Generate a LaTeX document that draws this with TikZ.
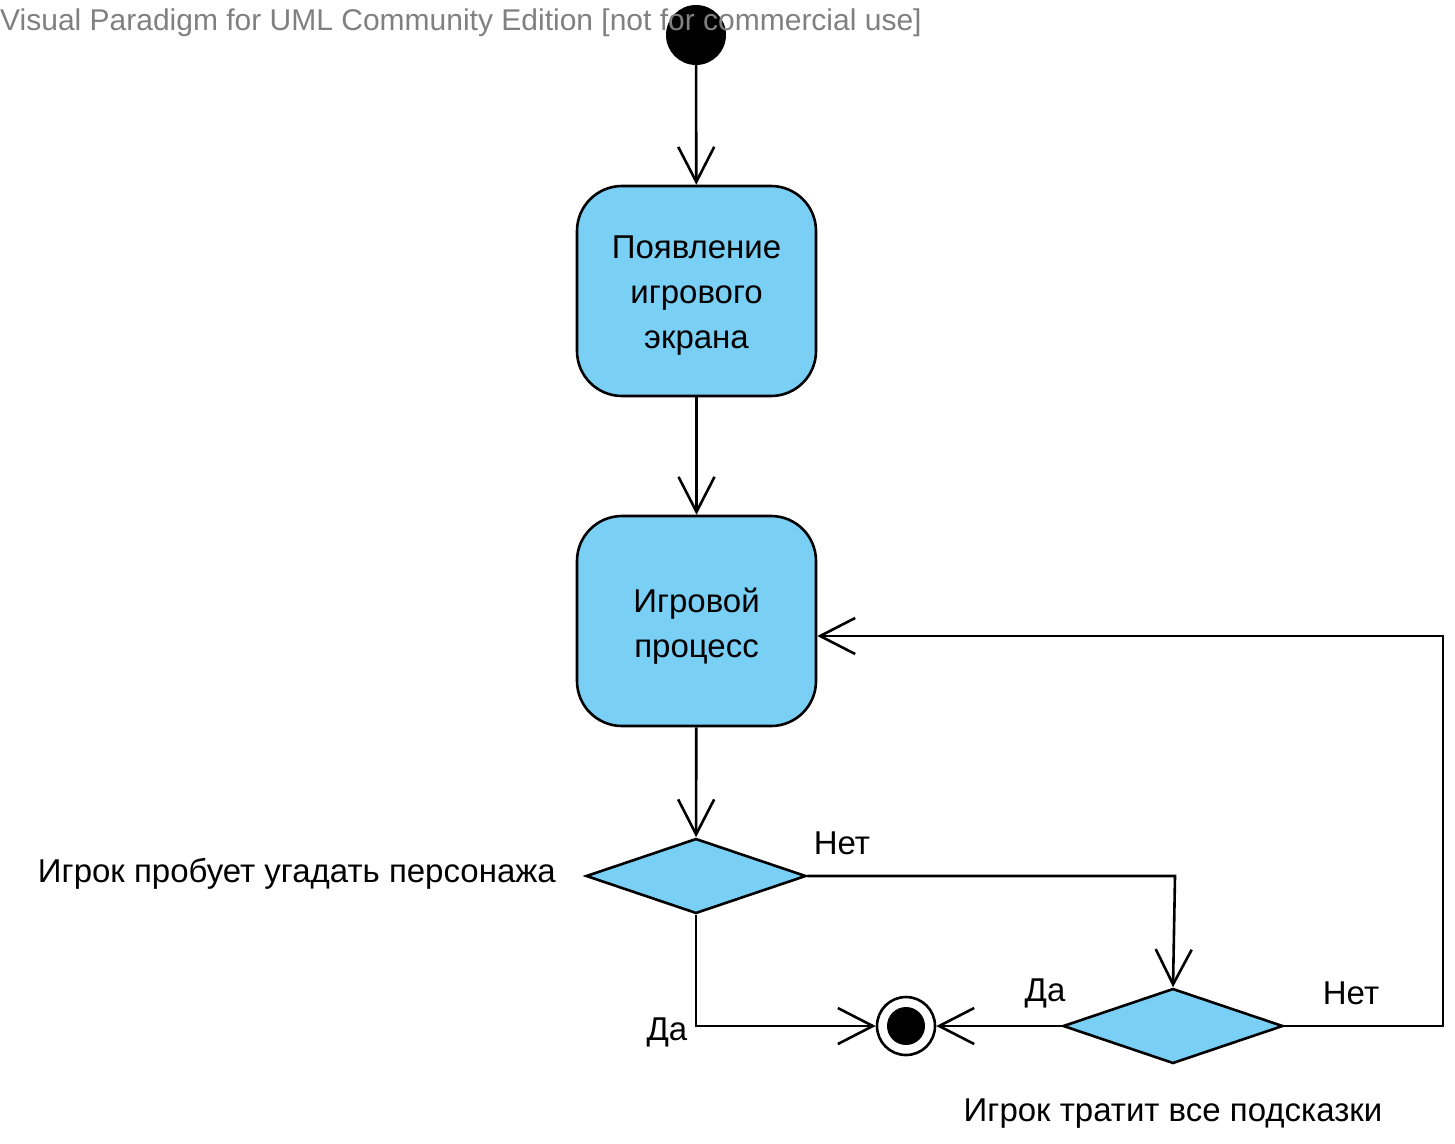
\documentclass[tikz,border=0pt]{standalone}
\usepackage{fontspec}
\setmainfont{Liberation Sans}
\usetikzlibrary{arrows.meta,shapes.geometric}
\definecolor{actfill}{RGB}{122,207,245}
\definecolor{wmgrey}{RGB}{128,128,128}
\tikzset{
  px/.style={x=1pt,y=-1pt},
  actbox/.style={draw=black,line width=2.6pt,fill=actfill,rounded corners=45pt,
    minimum width=239pt,minimum height=210pt,inner sep=0pt},
  acttext/.style={align=center,inner sep=0pt,font=\fontsize{33}{45}\selectfont},
  decis/.style={draw=black,line width=2.6pt,fill=actfill,diamond,inner sep=0pt,
    minimum width=220pt,minimum height=75pt},
  flow/.style={draw=black,line width=2.6pt,-{Straight Barb[length=35pt,width=36pt,line width=2.6pt]}},
  lbl/.style={font=\fontsize{33}{38}\selectfont,inner sep=0pt},
}
\begin{document}
\begin{tikzpicture}[px]
\useasboundingbox (0,0) rectangle (1455,1143);
\node[circle,fill=black,minimum size=60pt,inner sep=0pt] (init) at (696,35) {};
\node[anchor=west,inner sep=0pt,text=wmgrey,font=\fontsize{30}{34}\selectfont] (wm) at (0,23) {Visual Paradigm for UML Community Edition [not for commercial use]};
\node[actbox] (b1) at (696.5,291) {};
\node[acttext] (b1t) at (696.5,296) {Появление\\игрового\\экрана};
\node[actbox] (b2) at (696.5,621) {};
\node[acttext] (b2t) at (696.5,626) {Игровой\\процесс};
\node[decis] (d1) at (696,876) {};
\node[decis] (d2) at (1173,1026) {};
\node[circle,draw=black,line width=2.6pt,fill=white,minimum size=58pt,inner sep=0pt] (fin) at (906,1026) {};
\node[circle,fill=black,minimum size=38pt,inner sep=0pt] (finc) at (906,1026) {};
\coordinate (c1) at (1175,876);
\coordinate (c2) at (1443,1026);
\coordinate (c3) at (1443,636);
\draw[flow] (init) -- (b1);
\draw[flow] (b1) -- (b2);
\draw[flow] (b2) -- (d1);
\draw[flow] (d1.east) -- (c1) -- (d2.north);
\draw[flow] (d1.south) |- (fin.west);
\draw[flow] (d2.west) -- (fin.east);
\draw[flow] (d2.east) -- (c2) -- (c3) -- (c3 -| b2.east);
\node[lbl,anchor=east] (q1) at (556,874) {Игрок пробует угадать персонажа};
\node[lbl] (q2) at (1173,1114) {Игрок тратит все подсказки};
\node[lbl] (n1) at (842,843) {Нет};
\node[lbl] (n2) at (1351,993) {Нет};
\node[lbl] (y1) at (1045,993) {Да};
\node[lbl] (y2) at (667,1032) {Да};
\end{tikzpicture}
\end{document}
